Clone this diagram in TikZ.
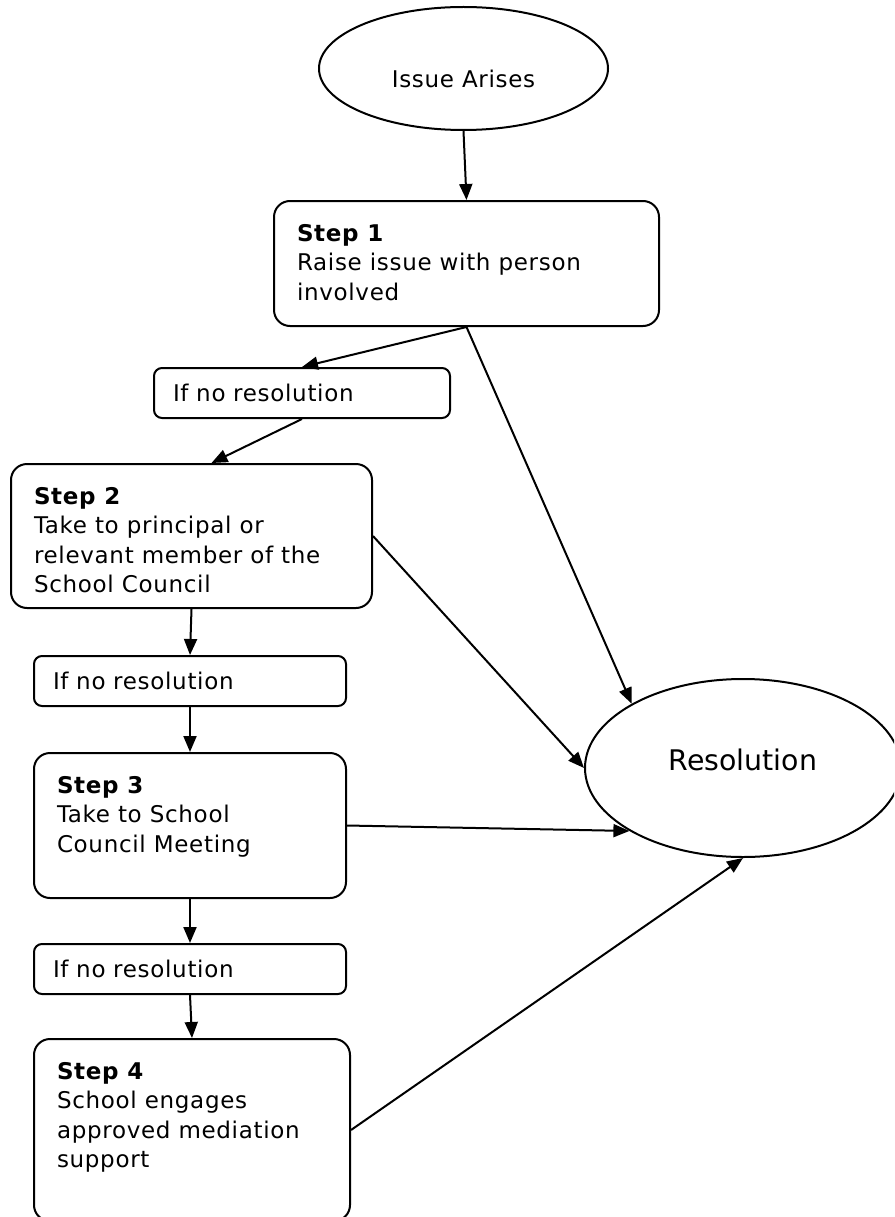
\documentclass[tikz,border=0pt]{standalone}
\usepackage{fontspec}
\setmainfont{DejaVu Sans}[LetterSpace=3]
\usetikzlibrary{shapes.geometric,arrows.meta}

\newcommand{\stepbody}[4]{\parbox[t][#1][t]{#2}{\textbf{#3}\\#4}}

\begin{document}
\begin{tikzpicture}[x=1pt, y=-1pt, line width=2pt,
    >={Triangle[length=16pt,width=13pt]},
    every node/.style={font=\fontsize{23}{29.3}\selectfont},
    bubble/.style={draw, ellipse, inner sep=0pt},
    stepbox/.style={draw, rounded corners=16pt, anchor=north west, inner xsep=23pt, inner ysep=23.5pt},
    nores/.style={draw, rounded corners=8pt, anchor=north west, inner xsep=19pt, inner ysep=0pt, minimum height=50pt, align=left}]
    \clip (0,0) rectangle (894,1217);

    \node [bubble, minimum width=289pt, minimum height=123pt, text height=39pt, text depth=0pt] (issue) at (463.5,68.5) {Issue Arises};
    \node [bubble, minimum width=316pt, minimum height=178pt, text height=21pt, text depth=16pt,
        font=\fontsize{28.4}{34}\selectfont\addfontfeature{LetterSpace=0}] (res) at (743,768) {Resolution};

    \node [stepbox] (s1) at (273,200) {\stepbody{78pt}{339pt}{Step 1}{Raise issue with person\\involved}};
    \node [nores, text width=258pt] (n1) at (153,367) {If no resolution};
    \node [stepbox] (s2) at (10,463) {\stepbody{97pt}{315pt}{Step 2}{Take to principal or\\relevant member of the\\School Council}};
    \node [nores, text width=274pt] (n2) at (33,655) {If no resolution};
    \node [stepbox] (s3) at (33,752) {\stepbody{98pt}{266pt}{Step 3}{Take to School\\Council Meeting}};
    \node [nores, text width=274pt] (n3) at (33,943) {If no resolution};
    \node [stepbox] (s4) at (33,1038) {\stepbody{135pt}{270pt}{Step 4}{School engages\\approved mediation\\support}};

    \draw [->] (issue.south) -- (s1.north);
    \draw [->] (s1.south) -- (n1.north);
    \draw [->] (s1.south) -- (res.150);
    \draw [->] (n1.south) -- ([xshift=20pt]s2.north);
    \draw [->] (s2.east) -- (res.west);
    \draw [->] (s2.south) -- (n2.north);
    \draw [->] (n2.south) -- (s3.north);
    \draw [->] (s3.east) -- (res.209);
    \draw [->] (s3.south) -- (n3.north);
    \draw [->] (n3.south) -- (s4.north);
    \draw [->] (s4.east) -- (res.south);
\end{tikzpicture}
\end{document}
